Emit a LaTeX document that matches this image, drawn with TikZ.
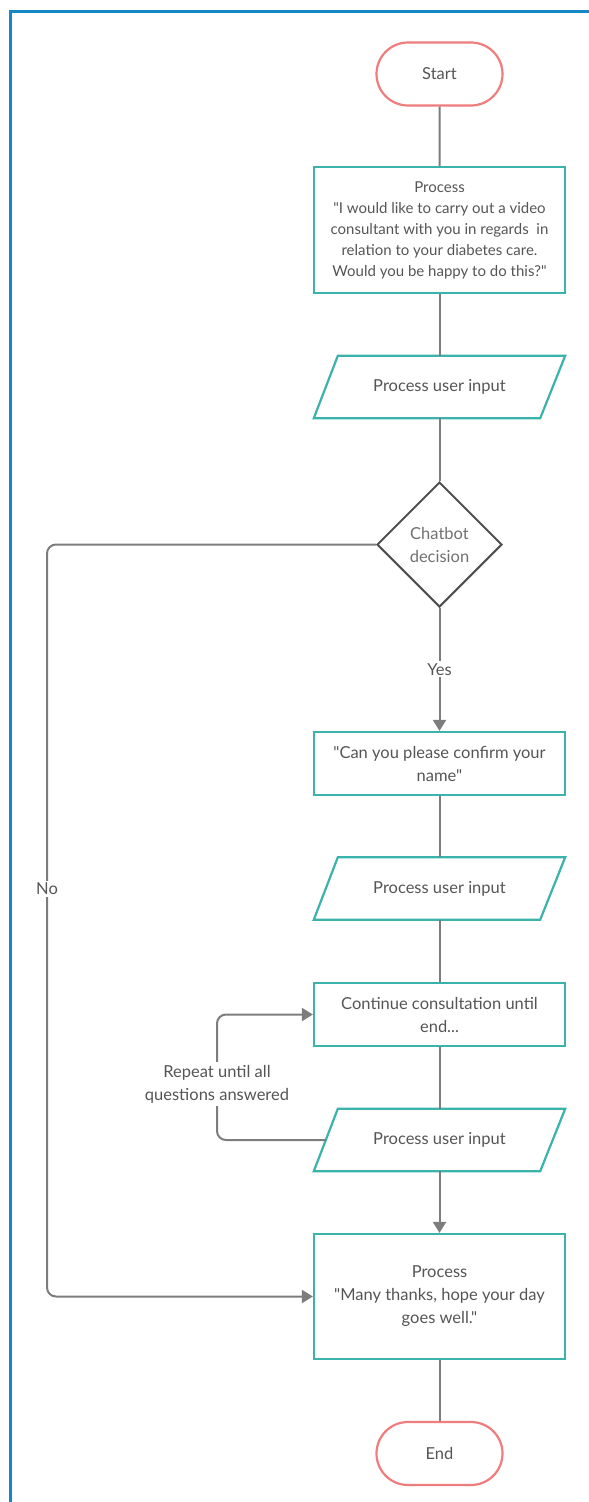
\documentclass[tikz,border=0pt]{standalone}
\usepackage{fontspec}
\setmainfont{Lato}[Ligatures=TeXOff]
\usetikzlibrary{shapes.geometric,shapes.misc,arrows.meta,calc}
\definecolor{tealc}{RGB}{60,178,172}
\definecolor{redc}{RGB}{240,125,125}
\definecolor{linec}{RGB}{125,125,125}
\definecolor{txtc}{RGB}{85,85,85}
\definecolor{decc}{RGB}{80,80,80}
\definecolor{bluec}{RGB}{22,135,200}
\tikzset{
  base/.style={font=\fontsize{16.5}{23}\selectfont, text=txtc, align=center, inner sep=0pt},
  term/.style={base, rounded rectangle, draw=redc, line width=2.2pt, minimum width=126pt, minimum height=63pt},
  procbox/.style={base, rectangle, draw=tealc, line width=2.2pt, minimum width=251pt},
  iobox/.style={base, rectangle, minimum width=251pt, minimum height=62pt},
  iodraw/.style={draw=tealc, line width=2.2pt, line join=miter},
  decbox/.style={base, diamond, draw=decc, line width=2pt, minimum width=125pt, minimum height=125pt, text=linec!90!black},
  conn/.style={draw=linec, line width=2pt},
  arr/.style={conn, -{Triangle[width=13pt,length=11pt]}},
  lbl/.style={base, fill=white, inner sep=2pt}
}
\newcommand{\iopoly}[1]{\draw[iodraw] ($(#1.north west)+(24,0)$) -- (#1.north east) -- ($(#1.south east)+(-25,0)$) -- (#1.south west) -- cycle;}
\begin{document}
\begin{tikzpicture}[x=1pt,y=-1pt]
\useasboundingbox (0,0) rectangle (589,1502);
\draw[bluec, line width=3pt] (10,1502) -- (10,11) -- (589,11);

\node[term] (start) at (439.5,74) {Start};
\node[procbox, minimum height=126pt, font=\fontsize{15}{21}\selectfont] (p1) at (439.5,230) {Process\\"I would like to carry out a video\\consultant with you in regards~ in\\relation to your diabetes care.\\Would you be happy to do this?"};
\node[iobox] (io1) at (439.5,387) {Process user input};
\node[decbox] (dec) at (439.5,544.5) {Chatbot\\decision};
\node[procbox, minimum height=63pt] (b2) at (439.5,763.5) {"Can you please confirm your\\name"};
\node[iobox] (io2) at (439.5,888.5) {Process user input};
\node[procbox, minimum height=63pt] (b3) at (439.5,1014.5) {Continue consultation until\\end...};
\node[iobox] (io3) at (439.5,1140) {Process user input};
\node[procbox, minimum height=125pt] (b4) at (439.5,1296.5) {Process\\"Many thanks, hope your day\\goes well."};
\node[term] (end) at (439.5,1453.5) {End};

\iopoly{io1}
\iopoly{io2}
\iopoly{io3}

\draw[conn] (start) -- (p1);
\draw[conn] (p1) -- (io1);
\draw[conn] (io1) -- (dec);
\draw[arr] (dec) -- node[lbl] {Yes} (b2);
\draw[conn] (b2) -- (io2);
\draw[conn] (io2) -- (b3);
\draw[conn] (b3) -- (io3);
\draw[arr] (io3) -- (b4);
\draw[conn] (b4) -- (end);

\coordinate (nl) at (47,544.5);
\coordinate (nb) at (47,1296.5);
\draw[arr, rounded corners=9pt] (dec.west) -- (nl) -- (nb) -- (b4.west);
\node[lbl] (nolbl) at (47,889) {No};

\coordinate (ioleft) at ($(io3.west)+(12,0)$);
\coordinate (rb) at (217,1140);
\coordinate (rt) at (217,1014.5);
\draw[arr, rounded corners=9pt] (ioleft) -- (rb) -- (rt) -- (b3.west);
\node[lbl, inner sep=3pt] (replbl) at (217,1084) {Repeat until all\\questions answered};
\end{tikzpicture}
\end{document}
